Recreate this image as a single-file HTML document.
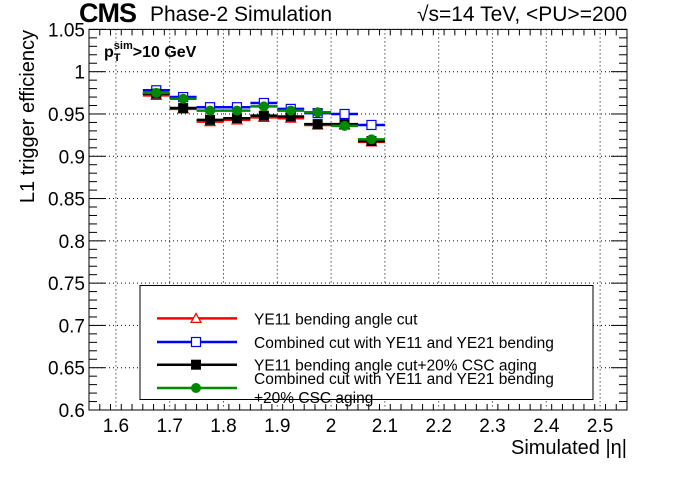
<!DOCTYPE html>
<html><head><meta charset="utf-8"><style>
body{margin:0;background:#fff}
svg text{font-family:"Liberation Sans",sans-serif}
</style></head><body>
<svg id="c" width="696" height="472" xmlns="http://www.w3.org/2000/svg">
<script>
const binCenters=[1.675,1.725,1.775,1.825,1.875,1.925,1.975,2.025,2.075];
const redVals=[0.972,0.956,0.941,0.943,0.946,0.945,0.937,0.937,0.917];
const blueVals=[0.978,0.970,0.958,0.958,0.963,0.956,0.951,0.950,0.937];
const blackVals=[0.974,0.957,0.943,0.945,0.948,0.947,0.938,0.938,0.918];
const greenVals=[0.975,0.968,0.954,0.954,0.959,0.954,0.952,0.936,0.920];
const xTicks=["1.6","1.7","1.8","1.9","2","2.1","2.2","2.3","2.4","2.5"];
const yTicks=["0.6","0.65","0.7","0.75","0.8","0.85","0.9","0.95","1","1.05"];
</script>
</svg>
<script>
const NS="http://www.w3.org/2000/svg";
const svg=document.getElementById('c');
const L=89,R=627,T=29.4,B=410;
const x0=1.55,x1=2.55,y0=0.6,y1=1.05;
const X=v=>L+(v-x0)/(x1-x0)*(R-L);
const Y=v=>B-(v-y0)/(y1-y0)*(B-T);
function mk(tag,a,p){const e=document.createElementNS(NS,tag);for(const k in a)e.setAttribute(k,a[k]);(p||svg).appendChild(e);return e;}
const grid=mk('g',{});


xTicks.forEach(t=>{const x=X(+t);mk('line',{x1:x,x2:x,y1:T,y2:B,stroke:'#000','stroke-width':1,'stroke-dasharray':'1,3'},grid);});
yTicks.forEach(t=>{const y=Y(+t);mk('line',{x1:L,x2:R,y1:y,y2:y,stroke:'#000','stroke-width':1,'stroke-dasharray':'1,3'},grid);});
const ax=mk('g',{stroke:'#000','stroke-width':1});


for(let i=0;i<=50;i++){const v=x0+i*0.02;const x=X(v);const len=(Math.round(v*100)%10==0)?12:6;mk('line',{x1:x,x2:x,y1:B,y2:B-len},ax);mk('line',{x1:x,x2:x,y1:T,y2:T+len},ax);}
for(let i=0;i<=45;i++){const v=y0+i*0.01;const y=Y(v);const len=(Math.round(v*100)%5==0)?16:8;mk('line',{x1:L,x2:L+len,y1:y,y2:y},ax);mk('line',{x1:R,x2:R-len,y1:y,y2:y},ax);}
mk('rect',{x:L,y:T,width:R-L,height:B-T,fill:'none',stroke:'#000','stroke-width':1});
xTicks.forEach(t=>{const e=mk('text',{x:X(+t),y:B+22,'text-anchor':'middle','font-size':19});e.textContent=t;});
yTicks.forEach(t=>{const e=mk('text',{x:L-4,y:Y(+t)+7,'text-anchor':'end','font-size':19});e.textContent=t;});
const series=[
 {name:'series-ye11',vals:redVals,col:'#f00',m:'tri'},
 {name:'series-combined',vals:blueVals,col:'#00f',m:'sq'},
 {name:'series-ye11-aging',vals:blackVals,col:'#000',m:'fsq'},
 {name:'series-combined-aging',vals:greenVals,col:'#080',m:'dot'}];
function marker(g,m,col,x,y){
 if(m=='tri')mk('polygon',{points:`${x},${y-5} ${x-5},${y+4} ${x+5},${y+4}`,fill:'#fff',stroke:col,'stroke-width':1.2},g);
 else if(m=='sq')mk('rect',{x:x-4.5,y:y-4.5,width:9,height:9,fill:'#fff',stroke:col,'stroke-width':1.2},g);
 else if(m=='fsq')mk('rect',{x:x-5,y:y-5,width:10,height:10,fill:col},g);
 else mk('circle',{cx:x,cy:y,r:5,fill:col},g);
}
series.forEach(s=>{const g=mk('g',{});
 binCenters.forEach((c,i)=>{const y=Y(s.vals[i]);mk('line',{x1:X(c-0.025),x2:X(c+0.025),y1:y,y2:y,stroke:s.col,'stroke-width':2.5},g);marker(g,s.m,s.col,X(c),y);});});
const lg=mk('g',{});
mk('rect',{x:140,y:285.5,width:453,height:114,fill:'#fff',stroke:'#000','stroke-width':1},lg);
const labels=[['YE11 bending angle cut'],['Combined cut with YE11 and YE21 bending'],['YE11 bending angle cut+20% CSC aging'],['Combined cut with YE11 and YE21 bending','+20% CSC aging']];
const ly=[318.4,342,364.7,388];
series.forEach((s,i)=>{const e=mk('g',{},lg);
 mk('line',{x1:157,x2:237,y1:ly[i],y2:ly[i],stroke:s.col,'stroke-width':2.5},e);marker(e,s.m,s.col,196,ly[i]);
 if(labels[i].length==1){const t=mk('text',{x:254,y:ly[i]+6,'font-size':15.5},e);t.textContent=labels[i][0];}
 else{const t=mk('text',{x:254,y:ly[i]-4,'font-size':15.5},e);t.textContent=labels[i][0];const t2=mk('text',{x:254,y:ly[i]+15,'font-size':15.5},e);t2.textContent=labels[i][1];}
});
</script>
<div style="position:absolute;left:0;top:0;width:696px;height:472px;pointer-events:none;font-family:'Liberation Sans',sans-serif">
<div style="position:absolute;left:79px;top:-2px;font-size:27px;font-weight:bold;letter-spacing:-1px">CMS</div>
<div style="position:absolute;left:150px;top:3px;font-size:21px">Phase-2 Simulation</div>
<div style="position:absolute;right:69px;top:3px;font-size:21px">√s=14 TeV, &lt;PU&gt;=200</div>
<div style="position:absolute;left:104px;top:40px;font-size:16px;font-weight:bold;white-space:nowrap;line-height:1">
<span style="display:inline-block;vertical-align:top;margin-top:5px">p</span><span style="display:inline-block;vertical-align:top;font-size:11px;line-height:12px;text-align:left"><span style="display:block">sim</span><span style="display:block">T</span></span><span style="display:inline-block;vertical-align:top;margin-top:5px">&gt;10 GeV</span></div>
<div style="position:absolute;right:69px;top:437px;font-size:20px">Simulated |η|</div>
<div style="position:absolute;left:16px;top:252px;width:222px;text-align:right;font-size:20px;line-height:24px;transform-origin:0 0;transform:rotate(-90deg);white-space:nowrap">L1 trigger efficiency</div>
</div>
</body></html>
